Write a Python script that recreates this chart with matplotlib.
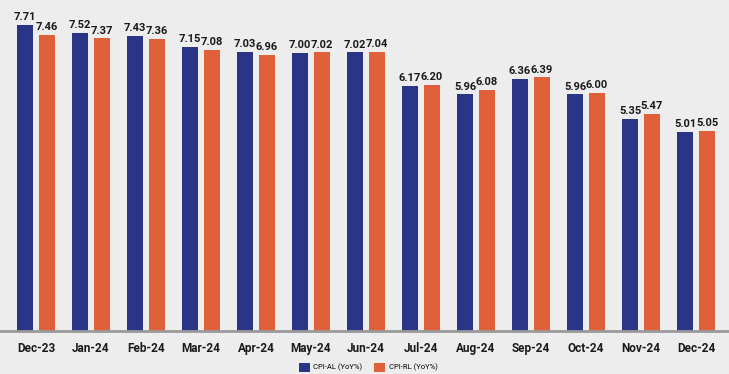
import matplotlib
matplotlib.use("Agg")
import matplotlib.pyplot as plt
import numpy as np

plt.rcParams["font.family"] = ["Roboto", "DejaVu Sans"]

months = ["Dec-23", "Jan-24", "Feb-24", "Mar-24", "Apr-24", "May-24", "Jun-24",
          "Jul-24", "Aug-24", "Sep-24", "Oct-24", "Nov-24", "Dec-24"]
cpi_al = [7.71, 7.52, 7.43, 7.15, 7.03, 7.00, 7.02, 6.17, 5.96, 6.36, 5.96, 5.35, 5.01]
cpi_rl = [7.46, 7.37, 7.36, 7.08, 6.96, 7.02, 7.04, 6.20, 6.08, 6.39, 6.00, 5.47, 5.05]

blue = "#2B3587"
orange = "#E0603A"
bg = "#EDEDED"

fig = plt.figure(figsize=(7.29, 3.74), dpi=100, facecolor=bg)
ax = fig.add_axes([0, 1 - 331/374, 1, 331/374])
ax.set_facecolor(bg)

x = np.arange(len(months))
w = 0.291
off = 0.2
b1 = ax.bar(x - off, cpi_al, w, color=blue, label="CPI-AL (YoY%)")
b2 = ax.bar(x + off, cpi_rl, w, color=orange, label="CPI-RL (YoY%)")

for bars, vals in ((b1, cpi_al), (b2, cpi_rl)):
    for r, v in zip(bars, vals):
        ax.text(r.get_x() + r.get_width()/2, v + 0.07, f"{v:.2f}",
                ha="center", va="bottom", fontsize=8, fontweight="bold",
                color="#1a1a1a")

ax.set_xlim(-0.655, 12.6)
ax.set_ylim(0, 8.34)
ax.set_xticks(x)
ax.set_xticklabels(months, fontsize=8.5, fontweight="bold", color="#1a1a1a")
ax.tick_params(axis="x", length=0, pad=8)
ax.set_yticks([])
for s in ("top", "left", "right"):
    ax.spines[s].set_visible(False)
ax.spines["bottom"].set_color("#999999")
ax.spines["bottom"].set_linewidth(2)

fig.legend(loc="lower center", bbox_to_anchor=(0.505, -0.012), ncol=2,
           frameon=False, fontsize=5.5, handlelength=1.4, handleheight=1.4,
           columnspacing=1.5, handletextpad=0.5)

fig.savefig("out.png", dpi=100, facecolor=bg)
